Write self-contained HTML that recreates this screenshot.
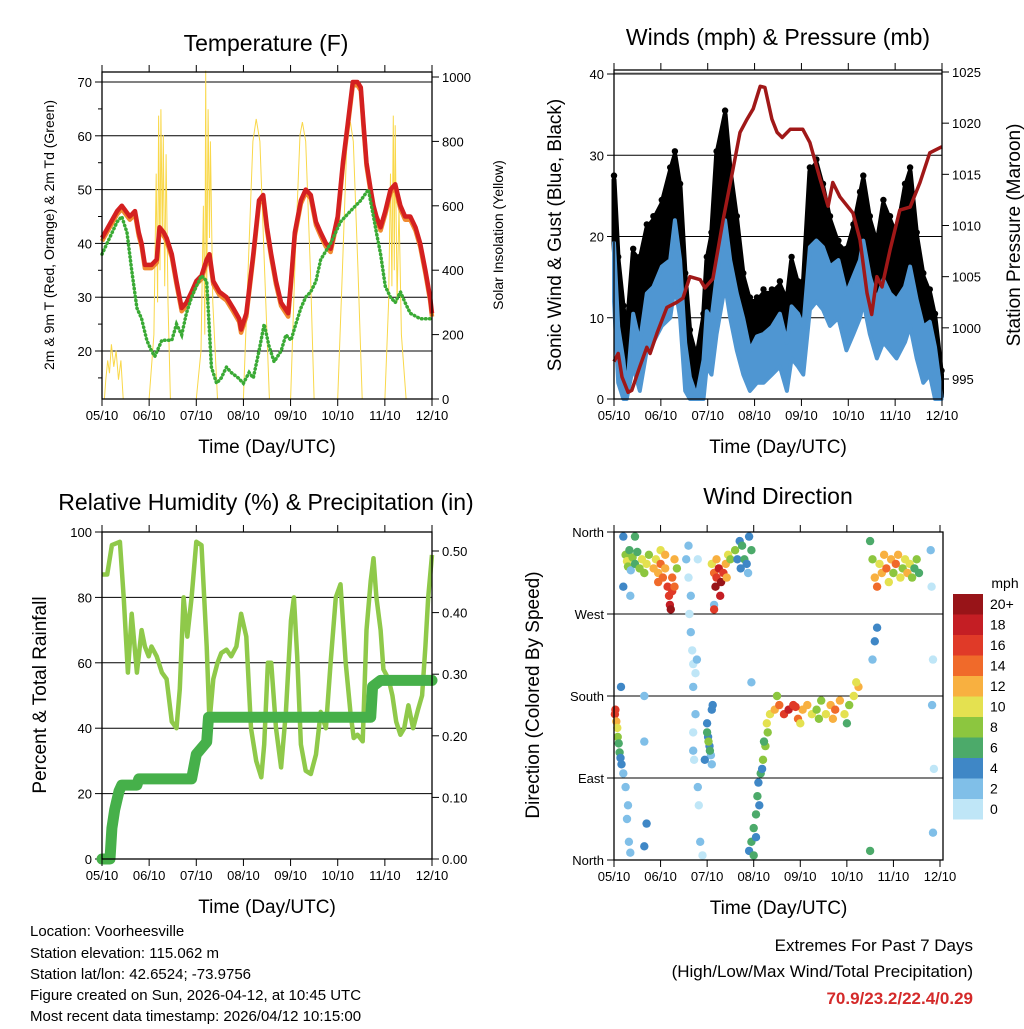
<!DOCTYPE html>
<html><head><meta charset="utf-8"><style>
body{margin:0;background:#fff;}
svg text{font-family:"Liberation Sans",sans-serif;fill:#000;}
</style></head><body>
<svg id="s" width="1024" height="1024" viewBox="0 0 1024 1024" xmlns="http://www.w3.org/2000/svg">
<g id="g1"></g>
<g id="g2"></g>
<g id="g3"></g>
<g id="g4"></g>
<g font-size="15">
<text x="30" y="936">Location: Voorheesville</text>
<text x="30" y="958">Station elevation: 115.062 m</text>
<text x="30" y="979">Station lat/lon: 42.6524; -73.9756</text>
<text x="30" y="1000">Figure created on Sun, 2026-04-12, at 10:45 UTC</text>
<text x="30" y="1021">Most recent data timestamp: 2026/04/12 10:15:00</text>
</g>
<g font-size="17" text-anchor="end">
<text x="973" y="951">Extremes For Past 7 Days</text>
<text x="973" y="977">(High/Low/Max Wind/Total Precipitation)</text>
<text x="973" y="1004" font-weight="bold" style="fill:#d42a2a">70.9/23.2/22.4/0.29</text>
</g>
</svg>
<script>
const dayLabels=["05/10","06/10","07/10","08/10","09/10","10/10","11/10","12/10"];
const tempDays=[0,.32,.42,.59,.70,.78,.84,.91,1.05,1.16,1.22,1.31,1.37,1.48,1.58,1.69,1.79,1.90,2.0,2.11,2.22,2.28,2.36,2.49,2.64,2.78,2.91,2.95,3.06,3.21,3.33,3.42,3.5,3.59,3.69,3.8,3.95,4.01,4.09,4.22,4.32,4.43,4.54,4.64,4.75,4.85,5.0,5.11,5.21,5.32,5.42,5.49,5.55,5.61,5.7,5.76,5.82,5.91,6.01,6.12,6.22,6.33,6.43,6.54,6.65,6.75,6.86,6.96,7];
const tempVals=[41,46,47,45,46,42,40,36,36,37,43,42,41,38,33,28,29,31,33,34,37,38,33,31,30,28,26,24,27,38,48,49,43,38,33,29,27,33,42,48,50,49,44,42,40,39,45,55,62,70,70,69,62,55,50,47,45,43,46,50,51,47,45,45,43,40,35,30,27];
const dewDays=[0,.32,.42,.53,.63,.74,.84,.95,1.05,1.12,1.27,1.48,1.58,1.69,1.79,1.9,2.0,2.11,2.22,2.32,2.43,2.53,2.64,2.74,2.89,3.0,3.12,3.21,3.33,3.44,3.54,3.65,3.8,3.9,4.01,4.11,4.22,4.32,4.43,4.54,4.64,4.85,5.06,5.27,5.49,5.65,5.76,5.82,5.91,6.01,6.12,6.22,6.33,6.43,6.54,6.75,7];
const dewVals=[38,44,45,42,35,28,26,22,20,19,22,22,25,23,27,30,32,34,33,17,14,15,17,16,15,14,16,15,20,25,21,18,20,23,22,25,28,30,31,33,37,40,44,46,48,50,45,42,38,32,30,29,31,29,27,26,26];
const solarDays=[.05,.08,.12,.16,.2,.25,.3,.35,.4,.45,1.0,1.1,1.15,1.18,1.2,1.23,1.25,1.28,1.3,1.33,1.36,1.4,1.45,2.0,2.1,2.15,2.18,2.2,2.22,2.25,2.28,2.3,2.35,2.45,3.0,3.1,3.2,3.27,3.35,3.45,3.55,4.0,4.1,4.2,4.25,4.32,4.42,4.5,5.0,5.1,5.2,5.27,5.33,5.43,5.52,6.0,6.08,6.12,6.15,6.18,6.2,6.22,6.26,6.3,6.35,6.45,7];
const solarVals=[0,60,120,80,170,100,150,60,120,0,0,200,700,300,880,400,900,500,820,350,760,300,0,0,150,600,200,1020,300,900,500,800,300,0,0,400,800,870,800,400,0,0,450,820,860,800,400,0,0,400,820,860,800,400,0,0,300,700,350,880,400,850,300,600,200,0,0];
const windDays=[0,.09,.2,.27,.41,.55,.7,.84,1.02,1.2,1.3,1.41,1.52,1.62,1.76,1.91,1.98,2.08,2.19,2.37,2.48,2.62,2.76,2.9,3.05,3.19,3.37,3.54,3.69,3.79,3.93,4.04,4.18,4.32,4.46,4.61,4.79,4.96,5.11,5.25,5.32,5.46,5.61,5.75,5.89,6.03,6.21,6.32,6.46,6.6,6.74,6.85,6.99];
const windVals=[19.2,8.9,4.8,0.7,10.5,6.9,13,13.8,16.3,17.1,22,17.1,6.9,2.7,0.3,4.8,10.8,9.9,15.1,22,17.1,13,9.9,6,7.7,8,8.9,10.5,6.9,11.4,10.5,8.9,18.7,19.5,18.7,16.3,17.1,13,15.1,17.1,19.5,15.1,12.2,14.7,13,12.2,13.8,16.3,12.2,8.9,9.5,6.4,0.3];
const windLow=[12,2,0,0,4,1,6,7,9,10,14,10,1,0,0,0,4,3,8,14,10,6,3,1,2,2,3,4,1,5,4,3,11,12,11,9,10,6,8,10,12,8,5,7,6,5,7,9,5,2,3,0,0];
const gustVals=[27,17,11,8,18,17,21,22,24,28,30,26,15,8,5,10,17,20,30,35,28,22,15,12,12,13,13,14,12,17,14,14,28,29,26,22,19,18,21,25,27,22,19,24,22,20,26,28,20,15,13,10,3];
const pressDays=[0,.09,.17,.3,.38,.55,.7,.77,.92,1.13,1.34,1.47,1.62,1.84,1.94,2.11,2.33,2.54,2.69,2.84,2.97,3.12,3.22,3.37,3.48,3.59,3.76,4.03,4.18,4.4,4.57,4.67,4.82,5.1,5.25,5.4,5.5,5.61,5.72,5.89,6.1,6.32,6.53,6.74,7];
const pressVals=[996.7,997.5,995.2,993.7,993.9,996.2,998.1,997.5,999.5,1002,1002.5,1002.9,1005,1004.7,1003.9,1004.8,1010.6,1015.5,1019.1,1020.4,1021.4,1023.6,1023.5,1020.4,1019.1,1018.6,1019.4,1019.4,1018.1,1014.5,1011.9,1014.2,1012.8,1011.2,1008.6,1003.4,1001.3,1005,1004,1007.6,1011.5,1011.8,1014.2,1017.1,1017.7];
const rhDays=[0,.11,.21,.38,.46,.55,.63,.74,.84,.91,.99,1.05,1.16,1.27,1.37,1.48,1.58,1.65,1.73,1.81,1.9,2.0,2.11,2.22,2.28,2.36,2.45,2.53,2.64,2.74,2.85,2.95,3.06,3.16,3.27,3.38,3.44,3.52,3.59,3.69,3.8,3.9,4.01,4.07,4.14,4.22,4.32,4.43,4.54,4.64,4.75,4.85,4.96,5.06,5.17,5.27,5.34,5.42,5.53,5.61,5.7,5.76,5.82,5.91,5.97,6.08,6.16,6.24,6.33,6.41,6.5,6.6,6.71,6.79,6.86,6.92,7];
const rhVals=[87,87,96,97,80,57,75,57,70,65,62,65,62,57,55,42,40,52,80,68,80,97,96,65,42,55,60,63,64,62,65,75,68,40,30,25,35,60,60,40,28,45,73,80,62,35,27,26,32,45,40,60,80,84,60,45,37,38,36,70,85,92,80,70,58,55,50,42,38,40,47,40,46,50,65,80,93];
const precipDays=[0,.17,.21,.27,.36,.42,.74,.78,1.9,2.0,2.22,2.26,5.7,5.74,5.91,7];
const precipVals=[0,0,.05,.08,.11,.12,.12,.13,.13,.17,.19,.23,.23,.28,.29,.29];
const dirPoints=[[0.02,160,16],[0.03,165,16],[0.05,152,12],[0.07,145,10],[0.08,135,8],[0.1,128,6],[0.12,118,6],[0.14,112,4],[0.16,105,4],[0.2,95,2],[0.25,80,2],[0.3,60,2],[0.28,45,2],[0.32,20,2],[0.35,8,2],[0.15,190,4],
[0.2,355,4],[0.25,335,8],[0.28,328,10],[0.3,322,8],[0.33,340,6],[0.36,318,2],[0.4,332,8],[0.45,325,6],[0.5,338,6],[0.55,320,8],[0.6,330,10],[0.65,315,8],[0.7,325,10],[0.75,335,8],[0.2,300,4],[0.35,290,2],[0.45,355,6],[0.65,180,2],[0.65,130,2],[0.7,40,4],[0.65,15,4],
[0.85,320,12],[0.9,330,10],[0.95,315,12],[1.0,325,14],[1.05,310,14],[1.1,320,12],[1.15,300,16],[1.18,290,16],[1.2,280,18],[1.22,275,20],[1.25,310,14],[1.3,330,12],[1.35,320,8],[1.0,340,10],[1.1,335,12],[0.95,305,14],[1.25,295,16],[1.3,300,14],
[1.55,330,2],[1.6,310,0],[1.62,270,0],[1.65,250,2],[1.68,230,0],[1.7,215,0],[1.75,205,0],[1.7,190,2],[1.75,160,2],[1.7,140,0],[1.72,110,0],[1.8,80,2],[1.82,60,0],[1.85,20,2],[1.9,5,0],[1.6,345,2],[1.8,330,0],[1.65,290,2],[1.78,220,2],[1.7,120,2],
[2.0,150,4],[2.02,135,4],[2.05,125,4],[2.08,115,2],[2.1,105,2],[2.0,140,6],[2.03,130,8],[2.06,120,6],[2.1,165,4],[2.12,170,4],[1.95,110,4],[2.15,280,2],
[2.1,325,10],[2.15,315,14],[2.2,310,16],[2.25,320,18],[2.3,305,20],[2.35,315,16],[2.4,325,12],[2.18,300,20],[2.28,290,18],[2.2,330,12],[2.45,335,10],[2.5,330,8],[2.42,310,12],[2.15,275,16],
[2.6,340,8],[2.65,330,4],[2.7,350,4],[2.75,345,6],[2.8,330,6],[2.85,325,4],[2.9,355,4],[2.95,340,6],[2.72,320,4],[2.88,315,2],[2.95,195,2],
[2.9,10,4],[2.95,20,6],[3.0,35,6],[3.05,50,6],[3.08,70,6],[3.1,85,4],[3.15,95,6],[3.2,110,8],[3.25,125,8],[3.3,140,8],[3.0,5,6],[3.05,25,4],[3.12,60,4],[3.18,100,4],[3.22,130,6],[3.28,150,10],
[3.35,160,10],[3.45,165,12],[3.55,170,14],[3.65,160,16],[3.75,165,18],[3.85,170,16],[3.95,155,14],[4.05,165,12],[4.15,170,12],[4.25,160,10],[4.35,165,8],[4.45,175,8],[4.55,160,10],[4.65,170,12],[4.75,165,14],[4.85,175,12],[4.95,160,10],[5.05,170,8],[5.15,180,10],[5.25,190,12],[3.5,180,8],[3.9,168,16],[4.0,150,10],[4.4,155,8],[4.7,155,12],[5.0,150,6],[5.2,195,10],
[5.5,350,6],[5.55,330,8],[5.6,310,12],[5.65,300,14],[5.7,325,10],[5.75,315,12],[5.8,335,12],[5.85,320,14],[5.9,305,10],[5.95,330,12],[6.0,315,8],[6.05,325,14],[6.1,335,12],[6.15,310,10],[6.2,320,8],[6.25,330,10],[6.3,315,12],[6.35,325,10],[6.4,310,8],[6.45,320,6],[6.5,330,8],[6.55,315,6],[5.65,255,4],[5.55,220,2],[5.6,240,4],[5.5,10,6],
[6.8,340,2],[6.82,300,0],[6.85,220,0],[6.83,170,2],[6.87,100,0],[6.85,30,2]];
const speedColors=["#bfe6f7","#80bfe8","#3f87c6","#4caa6a","#8cc63f","#e4e150","#f8b040","#f06a2a","#e03a28","#c41e24","#981418"];
const speedLabels=["0","2","4","6","8","10","12","14","16","18","20+"];

const NS="http://www.w3.org/2000/svg";
function mk(parent,tag,attrs,txt){const e=document.createElementNS(NS,tag);for(const k in attrs)e.setAttribute(k,attrs[k]);if(txt!==undefined)e.textContent=txt;parent.appendChild(e);return e;}
function lin(d0,d1,r0,r1){return v=>r0+(v-d0)/(d1-d0)*(r1-r0);}
function pts(xs,ys,fx,fy){return xs.map((d,i)=>fx(d).toFixed(1)+","+fy(ys[i]).toFixed(1)).join(" ");}
function band(days,top,bot,fx,fy){
  const a=days.map((d,i)=>fx(d).toFixed(1)+","+fy(top[i]).toFixed(1));
  const b=days.map((d,i)=>fx(d).toFixed(1)+","+fy(bot[i]).toFixed(1)).reverse();
  return a.concat(b).join(" ");
}

function frame(g,L,R,T,B,xs,name){
  const f=mk(g,"rect",{x:L,y:T,width:R-L,height:B-T,fill:"none",stroke:"#000","stroke-width":1.3});
  
  
  dayLabels.forEach((lab,i)=>{
    const x=xs(i);
    mk(g,"line",{x1:x,x2:x,y1:B,y2:B+7,stroke:"#000"});
    mk(g,"line",{x1:x,x2:x,y1:T,y2:T-7,stroke:"#000"});
    const t=mk(g,"text",{x:x,y:B+21,"font-size":13,"text-anchor":"middle"},lab);
    
    
  });
  const xt=mk(g,"text",{x:(L+R)/2,y:B+54,"font-size":19,"text-anchor":"middle"},"Time (Day/UTC)");
  
  
}
function hgrid(g,L,R,y){mk(g,"line",{x1:L,x2:R,y1:y,y2:y,stroke:"#000","stroke-width":1});}
function ytick(g,x,y,lab,side,name){
  mk(g,"line",{x1:x,x2:x+(side<0?-7:7),y1:y,y2:y,stroke:"#000"});
  const t=mk(g,"text",{x:x+(side<0?-10:10),y:y+5,"font-size":13,"text-anchor":side<0?"end":"start"},lab);
  
  
}
function ytitle(g,x,y,txt,size,name){
  const t=mk(g,"text",{x:0,y:0,"font-size":size,"text-anchor":"middle",transform:`translate(${x},${y}) rotate(-90)`},txt);
  
  
}
function title(g,x,y,txt,name){
  const t=mk(g,"text",{x:x,y:y,"font-size":23,"text-anchor":"middle"},txt);
  
  
}

// Panel 1: temperature
(function(){
  const g=document.getElementById("g1");
  const L=102,R=432,T=72,B=399;
  const xs=lin(0,7,L,R), yT=lin(20,70,351,82), yS=lin(0,1000,399,77);
  title(g,266,51,"Temperature (F)","temperature-title");
  [20,30,40,50,60,70].forEach(v=>{hgrid(g,L,R,yT(v));ytick(g,L,yT(v),String(v),-1,'temp-tick-label');});
  [0,200,400,600,800,1000].forEach(v=>ytick(g,R,yS(v),String(v),1,'solar-tick-label'));
  [15,25,35,45,55,65].forEach(v=>mk(g,"line",{x1:L,x2:L-4,y1:yT(v),y2:yT(v),stroke:"#000"}));
  const s=mk(g,"polyline",{points:pts(solarDays,solarVals,xs,yS),fill:"none",stroke:"#f9d84a","stroke-width":1});
  
  
  const o=mk(g,"polyline",{points:pts(tempDays,tempVals.map(v=>v-0.6),xs,yT),fill:"none",stroke:"#f08a30","stroke-width":4.5,"stroke-linejoin":"round"});
  
  
  const r=mk(g,"polyline",{points:pts(tempDays,tempVals,xs,yT),fill:"none",stroke:"#d42020","stroke-width":4.5,"stroke-linejoin":"round"});
  
  
  const d=mk(g,"polyline",{points:pts(dewDays,dewVals,xs,yT),fill:"none",stroke:"#3aaa35","stroke-width":3.5,"stroke-dasharray":"0.5 3.5","stroke-linecap":"round"});
  
  
  frame(g,L,R,T,B,xs,'temperature');
  ytitle(g,54,235,"2m & 9m T (Red, Orange) & 2m Td (Green)",14,'temp-y-title');
  ytitle(g,503,235,"Solar Insolation (Yellow)",14,'solar-y-title');
})();

// Panel 2: winds
(function(){
  const g=document.getElementById("g2");
  const L=614,R=942,T=70,B=399;
  const xs=lin(0,7,614,942), yW=lin(0,40,399,74), yP=lin(995,1025,379,72);
  title(g,778,45,"Winds (mph) & Pressure (mb)","winds-title");
  [0,10,20,30,40].forEach(v=>{hgrid(g,L,R,yW(v));ytick(g,L,yW(v),String(v),-1,'wind-tick-label');});
  [995,1000,1005,1010,1015,1020,1025].forEach(v=>ytick(g,R,yP(v),String(v),1,'pressure-tick-label'));
  const gb=mk(g,"polygon",{points:band(windDays,gustVals,windVals,xs,yW),fill:"#000",stroke:"#000","stroke-width":5,"stroke-linejoin":"round"});
  
  
  windDays.forEach((d,i)=>{
    const c=mk(g,"circle",{cx:xs(d).toFixed(1),cy:(yW(gustVals[i])-4).toFixed(1),r:3.2,fill:"#000"});
    
    
  });
  const bb=mk(g,"polygon",{points:band(windDays,windVals,windLow,xs,yW),fill:"#4f96d2",stroke:"#4f96d2","stroke-width":4,"stroke-linejoin":"round"});
  
  
  const p=mk(g,"polyline",{points:pts(pressDays,pressVals,xs,yP),fill:"none",stroke:"#a01818","stroke-width":3.5,"stroke-linejoin":"round"});
  
  
  mk(g,"line",{x1:L,x2:R,y1:73,y2:73,stroke:"#888","stroke-width":1});
  frame(g,L,R,T,B,xs,'winds');
  ytitle(g,561,235,"Sonic Wind & Gust (Blue, Black)",19,'wind-y-title');
  ytitle(g,1020,235,"Station Pressure (Maroon)",19,'pressure-y-title');
})();

// Panel 3: RH & precip
(function(){
  const g=document.getElementById("g3");
  const L=102,R=432,T=532,B=859;
  const xs=lin(0,7,L,R), yR=lin(0,100,859,532), yP=lin(0,0.5,859,551);
  title(g,266,510,"Relative Humidity (%) & Precipitation (in)","humidity-title");
  [20,40,60,80].forEach(v=>hgrid(g,L,R,yR(v)));
  [0,20,40,60,80,100].forEach(v=>ytick(g,L,yR(v),String(v),-1,'rh-tick-label'));
  [0,.1,.2,.3,.4,.5].forEach(v=>ytick(g,R,yP(v),v.toFixed(2),1,'precip-tick-label'));
  const h=mk(g,"polyline",{points:pts(rhDays,rhVals,xs,yR),fill:"none",stroke:"#8fc94a","stroke-width":4.5,"stroke-linejoin":"round"});
  
  
  const p=mk(g,"polyline",{points:pts(precipDays,precipVals,xs,yP),fill:"none",stroke:"#46b04a","stroke-width":11,"stroke-linejoin":"round","stroke-linecap":"round"});
  
  
  frame(g,L,R,T,B,xs,'humidity');
  ytitle(g,46,695,"Percent & Total Rainfall",19,'rh-y-title');
})();

// Panel 4: wind direction
(function(){
  const g=document.getElementById("g4");
  const L=614,R=943,T=532,B=860;
  const xs=lin(0,7,614,940), yD=lin(0,360,860,532);
  title(g,778,504,"Wind Direction","direction-title");
  [[360,"North"],[270,"West"],[180,"South"],[90,"East"],[0,"North"]].forEach(([v,lab])=>{hgrid(g,L,R,yD(v));ytick(g,L,yD(v),lab,-1,'direction-tick-label');});
  dirPoints.forEach(p=>{
    const idx=Math.min(10,Math.floor(p[2]/2));
    const c=mk(g,"circle",{cx:xs(p[0]).toFixed(1),cy:yD(p[1]).toFixed(1),r:4.2,fill:speedColors[idx]});
    
    
  });
  frame(g,L,R,T,B,xs,'direction');
  ytitle(g,539,695,"Direction (Colored By Speed)",19,'direction-y-title');
  const lt=mk(g,"text",{x:1005,y:588,"font-size":14,"text-anchor":"middle"},"mph");
  
  
  speedColors.forEach((c,i)=>{
    const y=799-i*20.5;
    const r=mk(g,"rect",{x:953,y:y,width:30,height:20.5,fill:c});
    
    
    const t=mk(g,"text",{x:990,y:y+15,"font-size":14},speedLabels[i]);
    
    
  });
})();
</script>
</body></html>
